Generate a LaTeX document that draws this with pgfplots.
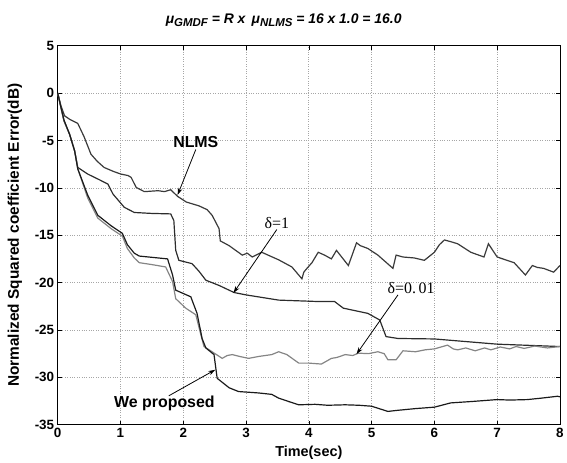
\documentclass[border=0pt]{standalone}
\usepackage{pgfplots}
\pgfplotsset{compat=1.18}
\usepackage{fontspec}
\setmainfont{Liberation Sans}
\newfontfamily\tms{Liberation Serif}
\usetikzlibrary{arrows.meta}
\definecolor{cNLMS}{HTML}{3A3A3A}
\definecolor{cDone}{HTML}{2C2C2C}
\definecolor{cDsmall}{HTML}{858585}
\definecolor{cProp}{HTML}{1A1A1A}
\newcommand{\sub}[1]{\raisebox{-0.4ex}{\fontsize{11.5}{11.5}\selectfont #1}}

\pgfplotstableread{
x y
0 0
0.05 -1.3
0.11 -2.4
0.2 -2.8
0.32 -3.2
0.42 -4.6
0.53 -6.45
0.63 -7.2
0.74 -7.85
0.9 -8.3
1.01 -8.55
1.12 -8.7
1.17 -8.9
1.25 -9.95
1.38 -10.4
1.6 -10.3
1.7 -10.4
1.80 -10.2
1.91 -10.9
2.05 -11.5
2.25 -11.9
2.38 -12.3
2.46 -12.9
2.57 -14.3
2.59 -15.6
2.73 -16.1
2.94 -17.1
3.02 -16.9
3.10 -17.3
3.25 -16.8
3.52 -17.6
3.73 -18.35
3.89 -19.6
3.92 -18.9
3.97 -18.5
4.05 -17.9
4.15 -16.8
4.25 -17.1
4.36 -17.5
4.44 -16.6
4.63 -18.2
4.76 -15.8
4.82 -16.1
4.94 -16.4
5.10 -17.1
5.34 -18.5
5.39 -17.1
5.50 -17.3
5.68 -17.4
5.84 -17.65
6.0 -16.8
6.08 -16.0
6.16 -15.5
6.27 -15.7
6.37 -15.9
6.58 -16.8
6.79 -17.3
6.86 -15.9
7.0 -17.3
7.27 -17.9
7.45 -19.2
7.56 -18.2
7.64 -18.4
7.74 -18.5
7.9 -18.9
8.0 -18.2
}\nlms

\pgfplotstableread{
x y
0 0
0.1 -2.9
0.19 -4.35
0.27 -6.1
0.32 -7.85
0.48 -8.55
0.65 -9.1
0.80 -9.6
0.88 -10.65
1.06 -12.05
1.22 -12.6
1.5 -12.7
1.80 -12.75
1.85 -13.45
1.88 -16.6
1.93 -17.65
2.14 -18.0
2.25 -18.8
2.36 -19.75
2.57 -20.3
2.81 -21.05
3.0 -21.3
3.52 -21.85
4.15 -22.0
4.41 -22.0
4.55 -22.7
4.94 -23.25
5.13 -23.95
5.23 -25.7
5.42 -25.9
6.0 -25.95
7.0 -26.5
8.0 -26.75
}\done

\pgfplotstableread{
x y
0 0
0.1 -2.95
0.19 -4.35
0.27 -6.1
0.32 -8.0
0.48 -11.1
0.64 -13.2
0.85 -14.3
1.03 -15.1
1.11 -16.4
1.22 -17.4
1.30 -17.9
1.50 -18.1
1.72 -18.35
1.83 -19.9
1.88 -21.7
2.04 -22.7
2.2 -23.4
2.28 -25.5
2.33 -26.75
2.46 -27.3
2.62 -28.0
2.70 -27.7
2.78 -27.6
2.90 -27.8
3.04 -28.0
3.2 -27.8
3.41 -27.6
3.52 -27.3
3.65 -27.6
3.84 -28.5
4.0 -28.5
4.2 -28.6
4.36 -28.0
4.45 -27.9
4.58 -27.6
4.70 -27.7
4.79 -27.45
4.95 -27.5
5.1 -27.3
5.2 -27.5
5.26 -28.15
5.39 -28.15
5.5 -27.2
5.7 -27.3
5.85 -27.1
6.0 -27.0
6.21 -26.6
6.3 -27.0
6.37 -27.1
6.5 -26.9
6.65 -27.2
6.8 -26.9
6.9 -27.1
7.05 -26.8
7.2 -27.0
7.3 -26.75
7.43 -26.95
7.6 -26.7
7.8 -26.9
8.0 -26.75
}\dsmall

\pgfplotstableread{
x y
0 0
0.1 -2.85
0.19 -4.35
0.27 -6.1
0.32 -8.0
0.48 -10.8
0.64 -12.9
0.85 -14.0
1.03 -14.8
1.11 -16.0
1.22 -16.9
1.30 -17.2
1.75 -17.5
1.83 -19.2
1.88 -20.8
2.12 -21.5
2.22 -23.25
2.30 -25.9
2.36 -26.9
2.49 -27.6
2.54 -30.1
2.73 -31.1
2.88 -31.5
3.2 -31.65
3.41 -31.8
3.52 -32.2
3.7 -32.6
3.84 -32.9
4.1 -32.85
4.3 -32.95
4.58 -32.9
4.8 -32.95
5.0 -33.05
5.26 -33.6
5.39 -33.5
5.7 -33.3
6.0 -33.15
6.26 -32.7
6.6 -32.55
7.0 -32.35
7.2 -32.4
7.48 -32.35
7.7 -32.2
7.96 -32.0
8.0 -32.05
}\prop

\begin{document}
\begin{tikzpicture}
\begin{axis}[
  at={(0,0)}, anchor=south west,
  width=505pt, height=381pt, scale only axis,
  xmin=0, xmax=8, ymin=-35, ymax=5,
  xtick={0,1,...,8}, ytick={-35,-30,...,5},
  grid=major,
  major grid style={dotted, gray!70, line width=0.7pt},
  tick align=inside, major tick length=4pt,
  axis line style={line width=0.9pt},
  every tick/.style={black, line width=0.6pt},
  ticklabel style={font=\fontsize{13.5}{13.5}\selectfont\bfseries},
  /pgf/number format/assume math mode=true,
  xlabel={Time(sec)},
  ylabel={Normalized Squared coefficient Error(dB)},
  xlabel style={font=\fontsize{14.5}{14.5}\selectfont\bfseries, at={(axis description cs:0.5,0)}, anchor=center, yshift=-28pt},
  ylabel style={font=\fontsize{15.5}{15.5}\selectfont\bfseries, at={(axis description cs:0,0.5)}, anchor=center, yshift=43pt},
  clip=false,
]
\addplot[cNLMS, line width=1.2pt] table[x=x,y=y] {\nlms};
\addplot[cDone, line width=1.2pt] table[x=x,y=y] {\done};
\addplot[cDsmall, line width=1.2pt] table[x=x,y=y] {\dsmall};
\addplot[cProp, line width=1.2pt] table[x=x,y=y] {\prop};

\node[font=\fontsize{16}{16}\selectfont\bfseries] at (axis cs:2.2,-5.2) {NLMS};
\draw[line width=0.8pt, -{Stealth[length=7pt,width=4.5pt]}] (axis cs:2.2,-5.95) -- (axis cs:1.91,-10.75);

\node[font=\fontsize{16}{16}\selectfont\tms] at (axis cs:3.49,-13.75) {δ=1};
\draw[line width=0.8pt, -{Stealth[length=7pt,width=4.5pt]}] (axis cs:3.49,-14.4) -- (axis cs:2.80,-21.1);

\node[font=\fontsize{16}{16}\selectfont\tms] at (axis cs:5.63,-20.6) {δ=0.\,01};
\draw[line width=0.8pt, -{Stealth[length=7pt,width=4.5pt]}] (axis cs:5.42,-21.3) -- (axis cs:4.76,-27.55);

\node[font=\fontsize{16}{16}\selectfont\bfseries] at (axis cs:1.70,-32.7) {We proposed};
\draw[line width=0.8pt, -{Stealth[length=7pt,width=4.5pt]}] (axis cs:1.77,-31.95) -- (axis cs:2.51,-29.2);

\node[font=\fontsize{14}{14}\selectfont\bfseries\itshape] at (rel axis cs:0.45,1) [yshift=26pt] {μ\sub{GMDF} = R x\, μ\sub{NLMS} = 16 x 1.0 = 16.0};
\end{axis}
\path (-58pt,-38pt) rectangle (509pt,427pt);
\end{tikzpicture}
\end{document}
